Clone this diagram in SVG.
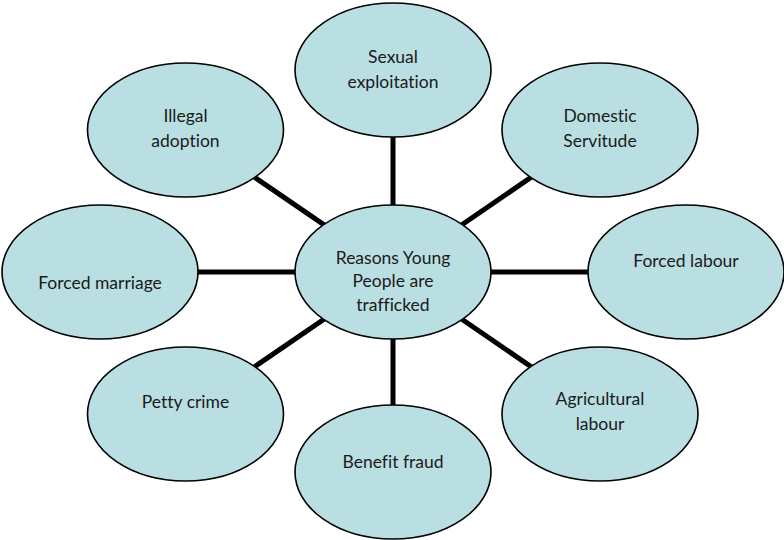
<svg xmlns="http://www.w3.org/2000/svg" width="784" height="540" viewBox="0 0 784 540">
<style>
.n ellipse{fill:#badfe2;stroke:#000;stroke-width:1.6}
.n text{font-family:Lato,"Open Sans","Liberation Sans",sans-serif;font-size:17.5px;fill:#1a1a1a;text-anchor:middle;font-variant-ligatures:none;font-feature-settings:"liga" 0,"dlig" 0}
.c line{stroke:#000;stroke-width:5}
</style>
<rect width="784" height="540" fill="#fff"/>
<g id="connectors" class="c">
<line x1="393" y1="272" x2="393" y2="70"/>
<line x1="393" y1="272" x2="600" y2="130"/>
<line x1="393" y1="272" x2="686" y2="272"/>
<line x1="393" y1="272" x2="600" y2="414"/>
<line x1="393" y1="272" x2="393" y2="472"/>
<line x1="393" y1="272" x2="185.5" y2="414"/>
<line x1="393" y1="272" x2="100" y2="272"/>
<line x1="393" y1="272" x2="185.5" y2="130"/>
</g>
<g id="center" class="n">
<ellipse cx="393" cy="272" rx="98" ry="67"/>
<text x="393" y="264">Reasons Young</text>
<text x="393" y="287">People are</text>
<text x="393" y="311">trafficked</text>
</g>
<g id="sexual" class="n">
<ellipse cx="393" cy="70" rx="98" ry="67"/>
<text x="393" y="63">Sexual</text>
<text x="393" y="88">exploitation</text>
</g>
<g id="domestic" class="n">
<ellipse cx="600" cy="130" rx="98" ry="67"/>
<text x="600" y="122">Domestic</text>
<text x="600" y="147">Servitude</text>
</g>
<g id="forcedlabour" class="n">
<ellipse cx="686" cy="272" rx="98" ry="67"/>
<text x="686" y="267">Forced labour</text>
</g>
<g id="agricultural" class="n">
<ellipse cx="600" cy="414" rx="98" ry="67"/>
<text x="600" y="405">Agricultural</text>
<text x="600" y="430">labour</text>
</g>
<g id="benefit" class="n">
<ellipse cx="393" cy="472" rx="98" ry="67"/>
<text x="393" y="468">Benefit fraud</text>
</g>
<g id="petty" class="n">
<ellipse cx="185.5" cy="414" rx="98" ry="67"/>
<text x="185.5" y="408">Petty crime</text>
</g>
<g id="marriage" class="n">
<ellipse cx="100" cy="272" rx="98" ry="67"/>
<text x="100" y="289">Forced marriage</text>
</g>
<g id="adoption" class="n">
<ellipse cx="185.5" cy="130" rx="98" ry="67"/>
<text x="185.5" y="122">Illegal</text>
<text x="185.5" y="147">adoption</text>
</g>
</svg>
